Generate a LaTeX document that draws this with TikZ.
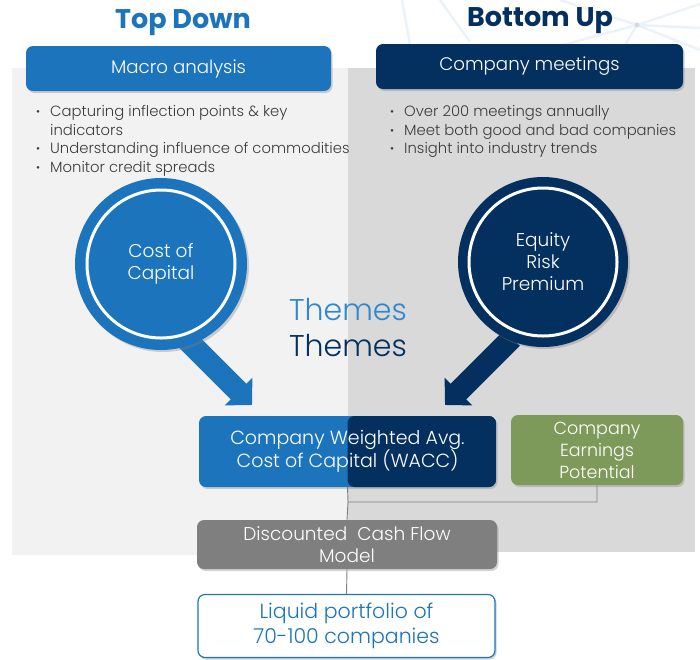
\documentclass[tikz,border=0pt]{standalone}
\usepackage{fontspec}
\setmainfont{Poppins}[UprightFont=* Light, BoldFont=* Bold]
\usetikzlibrary{arrows.meta,shadows}

\definecolor{tdBlue}{HTML}{1C75BC}
\definecolor{buNavy}{HTML}{03305F}
\definecolor{earnGreen}{HTML}{7E9A5A}
\definecolor{dcfGray}{HTML}{7F7F7F}
\definecolor{panelLight}{HTML}{F2F2F2}
\definecolor{panelDark}{HTML}{D9D9D9}
\definecolor{noteText}{HTML}{3C3C3C}
\definecolor{themeBlue}{HTML}{2F88CF}
\definecolor{webLine}{HTML}{EBF3F9}

% bullet with its hanging gap
\newcommand{\bp}{\makebox[14pt][l]{\raisebox{1pt}{\fontsize{11}{11}\selectfont\textbullet}}}
\newcommand{\bpgap}{\hspace*{14pt}}

\tikzset{
  tile/.style={rounded corners=7pt, align=center, text=white, inner sep=0pt,
    drop shadow={opacity=0.35, shadow xshift=1.5pt, shadow yshift=-2pt}},
  lens/.style={circle, inner sep=0pt, align=center, text=white, minimum size=172pt,
    font=\fontsize{18.5}{22}\selectfont,
    drop shadow={opacity=0.35, shadow xshift=2pt, shadow yshift=-2pt}},
  lensring/.style={draw=white, line width=3pt},
  fatarrow/.style={line width=22pt, -{Triangle[length=19pt,width=38pt]}},
  link/.style={draw=dcfGray, line width=0.9pt},
  notes/.style={anchor=north west, align=left, text=noteText, inner sep=0pt,
    font=\fontsize{14.8}{18.5}\selectfont},
  title/.style={font=\bfseries\fontsize{27}{27}\selectfont},
}

\begin{document}
\begin{tikzpicture}[x=1pt, y=-1pt]
  \useasboundingbox (0,0) rectangle (700,659);

  %--------------------------------------------------------------
  % faint web in the top right corner
  %--------------------------------------------------------------
  \coordinate (hub) at (637,25);
  \foreach \p in {(560,0),(700,4),(700,50),(610,70),(470,70),(700,28)}
    \draw[webLine, line width=2.5pt] (hub) -- \p;
  \draw[webLine, line width=2.5pt] (402,0) -- (410,45);
  \draw[webLine, line width=2.5pt] (440,0) -- (470,42);
  \fill[gray!30] (hub) circle (2.5pt);

  %--------------------------------------------------------------
  % two background panels
  %--------------------------------------------------------------
  \fill[panelLight] (12,68) rectangle (348,555);
  \fill[panelDark] (348,68) rectangle (695,552);

  %--------------------------------------------------------------
  % titles and header boxes
  %--------------------------------------------------------------
  \node[title, text=tdBlue] (tdTitle) at (183,23) {Top Down};
  \node[title, text=buNavy] (buTitle) at (540,21) {Bottom Up};

  \node[tile, fill=tdBlue, minimum width=305pt, minimum height=45pt,
    font=\fontsize{18.2}{20}\selectfont] (macro) at (178.5,68.5) {Macro analysis};
  \node[tile, fill=buNavy, minimum width=307pt, minimum height=45pt,
    font=\fontsize{18.2}{20}\selectfont] (meet) at (529.5,66.5) {Company meetings};

  % bullet notes
  \node[notes] (macroNotes) at (36,105.5) {%
    \bp Capturing inflection points \& key\\
    \bpgap indicators\\
    \bp Understanding influence of commodities\\
    \bp Monitor credit spreads};
  \node[notes] (meetNotes) at (390,105.5) {%
    \bp Over 200 meetings annually\\
    \bp Meet both good and bad companies\\
    \bp Insight into industry trends};

  %--------------------------------------------------------------
  % circles with their arrows
  %--------------------------------------------------------------
  \coordinate (cocTip) at (252,405);
  \coordinate (erpTip) at (445,405);
  \draw[fatarrow, tdBlue] (185,338) -- (cocTip);
  \draw[fatarrow, buNavy] (512,338) -- (erpTip);

  \node[lens, fill=tdBlue] (coc) at (161,264) {Cost of\\Capital};
  \draw[lensring] (coc.center) circle[radius=74pt];
  \node[lens, fill=buNavy, minimum size=170pt] (erp) at (543,262) {Equity\\Risk\\Premium};
  \draw[lensring] (erp.center) circle[radius=74pt];

  % themes
  \node[font=\fontsize{30}{30}\selectfont, text=themeBlue] (themeA) at (348,310) {Themes};
  \node[font=\fontsize{30}{30}\selectfont, text=buNavy] (themeB) at (348,346) {Themes};

  %--------------------------------------------------------------
  % valuation chain
  %--------------------------------------------------------------
  \node[tile, fill=tdBlue, minimum width=297pt, minimum height=71pt,
    font=\fontsize{19}{23}\selectfont,
    path picture={\fill[buNavy] (path picture bounding box.north) rectangle
      (path picture bounding box.south east);}] (wacc) at (347.5,451.5)
    {Company Weighted Avg.\\Cost of Capital (WACC)};
  \node[tile, fill=earnGreen, minimum width=172pt, minimum height=70pt,
    font=\fontsize{17.5}{22}\selectfont] (earn) at (597,450)
    {Company\\Earnings\\Potential};
  \node[tile, fill=dcfGray, minimum width=300pt, minimum height=49pt,
    font=\fontsize{18.5}{22}\selectfont] (dcf) at (347,544.5)
    {Discounted\ \ Cash Flow\\Model};
  \node[tile, fill=white, draw=tdBlue, line width=1.2pt, text=tdBlue,
    minimum width=297pt, minimum height=63pt,
    font=\fontsize{20.5}{25}\selectfont] (port) at (346.5,626)
    {Liquid portfolio of\\70-100 companies};

  \coordinate (jn) at (348,502);
  \draw[link] (wacc.south) -- (jn) -| (earn.south);
  \draw[link] (jn) -- (dcf.north);
  \draw[link] (dcf.south) -- (port.north);
\end{tikzpicture}
\end{document}
